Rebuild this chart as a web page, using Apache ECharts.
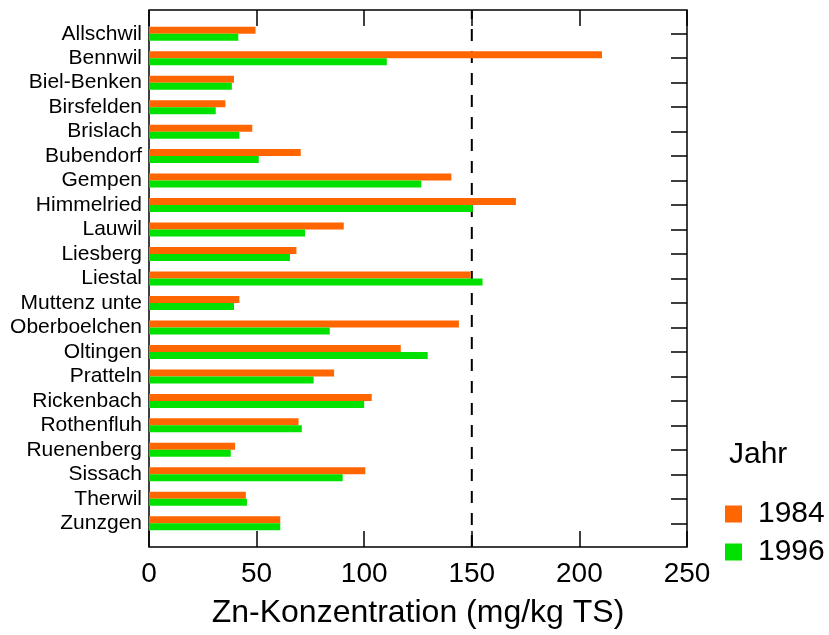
<!DOCTYPE html>
<html>
<head>
<meta charset="utf-8">
<script src="https://cdn.jsdelivr.net/npm/echarts@6/dist/echarts.min.js"></script>
<style>
  html, body { margin: 0; padding: 0; background: #fff; }
  #zn_chart { width: 829px; height: 635px; }
</style>
</head>
<body>
<div id="zn_chart"></div>
<script>
// Gemeinden (top to bottom)
const gemeinden = ['Allschwil', 'Bennwil', 'Biel-Benken', 'Birsfelden', 'Brislach', 'Bubendorf',
  'Gempen', 'Himmelried', 'Lauwil', 'Liesberg', 'Liestal', 'Muttenz unte', 'Oberboelchen',
  'Oltingen', 'Pratteln', 'Rickenbach', 'Rothenfluh', 'Ruenenberg', 'Sissach', 'Therwil', 'Zunzgen'];

const zn1984 = [49.5, 210.5, 39.5, 35.5, 48, 70.5, 140.5, 170.5, 90.5, 68.5, 149.5, 42, 144,
  117, 86, 103.5, 69.5, 40, 100.5, 45, 61];
const zn1996 = [41.5, 110.5, 38.5, 31, 42, 51, 126.5, 150.5, 72.5, 65.5, 155, 39.5, 84,
  129.5, 76.5, 100, 71, 38, 90, 45.5, 61];

const xTicks = [0, 50, 100, 150, 200, 250];
const richtwert = 150;   // dashed reference line

const FONT = "'Liberation Sans', Arial, sans-serif";

let myChart = echarts.init(document.getElementById('zn_chart'));
myChart.setOption({
  animation: false,
  grid: [
    // frame
    {left: 149, right: 142, top: 10, bottom: 88, show: true, borderColor: '#000', borderWidth: 1.5, backgroundColor: 'transparent'},
    // bars (category centres sit inside the frame)
    {left: 149, right: 142, top: 21.5, bottom: 99.5}
  ],
  xAxis: [
    {
      gridIndex: 0, type: 'value', position: 'bottom',
      min: xTicks[0], max: xTicks[xTicks.length - 1], interval: 50,
      axisLine: {show: false},
      axisTick: {show: true, inside: true, length: 16, lineStyle: {color: '#000', width: 1.5}},
      axisLabel: {fontSize: 28, color: '#000', fontFamily: FONT, margin: 13},
      splitLine: {show: false},
      name: 'Zn-Konzentration (mg/kg TS)', nameLocation: 'middle', nameGap: 50,
      nameTextStyle: {fontSize: 32, color: '#000', fontFamily: FONT}
    },
    {
      gridIndex: 0, type: 'value', position: 'top',
      min: xTicks[0], max: xTicks[xTicks.length - 1], interval: 50,
      axisLine: {show: false},
      axisTick: {show: true, inside: true, length: 16, lineStyle: {color: '#000', width: 1.5}},
      axisLabel: {show: false},
      splitLine: {show: false}
    },
    {
      gridIndex: 1, type: 'value', min: 0, max: 250, show: false
    }
  ],
  yAxis: [
    {gridIndex: 0, type: 'value', min: 0, max: 1, show: false},
    {
      gridIndex: 1, type: 'category', data: gemeinden, inverse: true, position: 'left',
      axisLine: {show: false}, axisTick: {show: false},
      axisLabel: {interval: 0, fontSize: 21, color: '#000', fontFamily: FONT, margin: 7}
    },
    {
      gridIndex: 1, type: 'category', data: gemeinden, inverse: true, position: 'right',
      axisLine: {show: false},
      axisTick: {show: true, interval: 0, inside: true, length: 16, alignWithLabel: true, lineStyle: {color: '#000', width: 1.5}},
      axisLabel: {show: false}
    }
  ],
  legend: {
    orient: 'vertical', left: 720, top: 494, itemWidth: 17, itemHeight: 17, itemGap: 8,
    icon: 'rect',
    data: ['1984', '1996'],
    textStyle: {fontSize: 30, color: '#000', fontFamily: FONT, lineHeight: 30, padding: [0, 0, 0, 11]}
  },
  graphic: [
    {type: 'text', left: 729, top: 440, style: {text: 'Jahr', font: '30px ' + FONT, fill: '#000'}}
  ],
  series: [
    {
      name: 'ref', type: 'line', xAxisIndex: 0, yAxisIndex: 0, symbol: 'none', silent: true,
      data: [[richtwert, 0], [richtwert, 1]],
      lineStyle: {color: '#000', width: 2, type: [12, 10]}, z: 1
    },
    {
      name: '1984', type: 'bar', xAxisIndex: 2, yAxisIndex: 1, data: zn1984,
      barWidth: 7, barGap: '0%', itemStyle: {color: '#ff6600'}, z: 3
    },
    {
      name: '1996', type: 'bar', xAxisIndex: 2, yAxisIndex: 1, data: zn1996,
      barWidth: 7, barGap: '0%', itemStyle: {color: '#00e100'}, z: 3
    }
  ]
});
</script>
</body>
</html>
